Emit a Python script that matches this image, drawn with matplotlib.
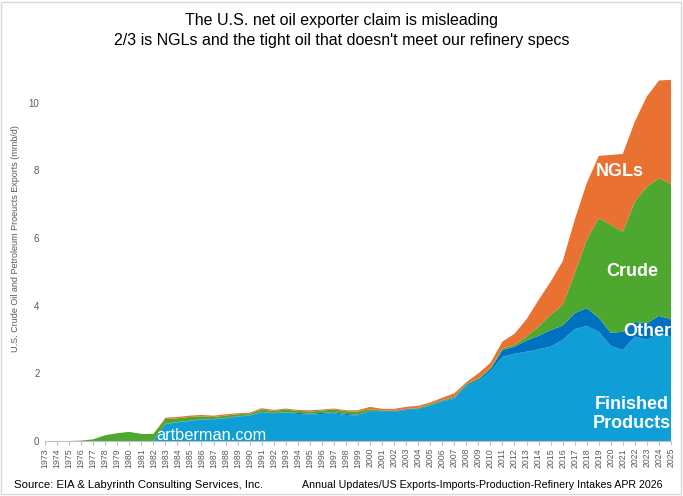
import numpy as np
import matplotlib
matplotlib.use("Agg")
import matplotlib.pyplot as plt
from matplotlib.patches import Rectangle

plt.rcParams['font.family'] = ['Liberation Sans', 'DejaVu Sans']

years = list(range(1973, 2026))

# mmb/d (bottom to top of the stack)
finished = [0, 0, 0, 0, 0, 0, 0, 0, 0, 0,
            0.50, 0.55, 0.59, 0.63, 0.64, 0.67, 0.72, 0.75, 0.85, 0.82,
            0.84, 0.80, 0.78, 0.80, 0.82, 0.77, 0.75, 0.87, 0.87, 0.86,
            0.92, 0.94, 1.04, 1.16, 1.26, 1.63, 1.78, 2.05, 2.49, 2.58,
            2.64, 2.71, 2.79, 2.99, 3.31, 3.40, 3.23, 2.81, 2.69, 3.09,
            2.99, 3.19, 3.09]
other = [0, 0, 0, 0, 0, 0, 0, 0, 0, 0,
         0.01, 0.01, 0.01, 0.01, 0.01, 0.01, 0.01, 0.01, 0.01, 0.01,
         0.01, 0.03, 0.03, 0.03, 0.03, 0.03, 0.03, 0.02, 0.02, 0.02,
         0.02, 0.02, 0.02, 0.02, 0.02, 0.03, 0.04, 0.07, 0.20, 0.21,
         0.33, 0.40, 0.49, 0.42, 0.47, 0.53, 0.41, 0.39, 0.54, 0.43,
         0.49, 0.51, 0.51]
crude = [0, 0, 0, 0.01, 0.05, 0.17, 0.23, 0.27, 0.21, 0.21,
         0.14, 0.11, 0.11, 0.09, 0.06, 0.07, 0.06, 0.05, 0.07, 0.06,
         0.08, 0.06, 0.06, 0.07, 0.08, 0.08, 0.09, 0.05, 0.02, 0.01,
         0.01, 0.02, 0.03, 0.03, 0.03, 0.03, 0.04, 0.04, 0.05, 0.05,
         0.12, 0.27, 0.45, 0.61, 1.18, 2.02, 2.95, 3.19, 2.96, 3.56,
         4.04, 4.07, 4.00]
ngl = [0, 0, 0, 0, 0, 0, 0, 0, 0, 0,
       0.04, 0.04, 0.04, 0.04, 0.04, 0.04, 0.03, 0.03, 0.04, 0.03,
       0.03, 0.03, 0.04, 0.03, 0.03, 0.03, 0.04, 0.07, 0.04, 0.06,
       0.06, 0.06, 0.05, 0.07, 0.10, 0.05, 0.14, 0.15, 0.20, 0.33,
       0.51, 0.79, 0.98, 1.29, 1.58, 1.67, 1.84, 2.07, 2.30, 2.37,
       2.67, 2.89, 3.08]

colors = ['#0F9ED5', '#0070C0', '#4EA72E', '#E97132']

fig = plt.figure(figsize=(6.83, 4.96), dpi=100)
ax = fig.add_axes([45 / 683, 1 - 441 / 496, 626 / 683, 372 / 496])

ax.stackplot(years, finished, other, crude, ngl, colors=colors, lw=0)

ax.set_xlim(1973, 2025)
ax.set_ylim(0, 11)
ax.set_xticks(years)
ax.set_xticklabels([str(y) for y in years], rotation=90, fontsize=6.3, color='#595959')
ax.set_yticks(range(0, 11, 2))
ax.tick_params(axis='y', length=0, labelsize=7, labelcolor='#595959', pad=4)
ax.tick_params(axis='x', length=3, color='#bfbfbf', pad=2)
for s in ['left', 'top', 'right']:
    ax.spines[s].set_visible(False)
ax.spines['bottom'].set_color('#bfbfbf')
ax.set_ylabel('U.S. Crude Oil and Petroleum Proeucts Exports (mmb/d)',
              fontsize=6.5, color='#595959')
ax.yaxis.set_label_coords(-0.04, 0.543)

# labels inside the areas
lab = dict(color='white', fontweight='bold', fontsize=13, ha='center', va='center')
ax.text(2020.75, 7.96, 'NGLs', **lab)
ax.text(2021.8, 5.0, 'Crude', **lab)
ax.text(2023.0, 3.25, 'Other', **lab)
ax.text(2021.75, 0.8, 'Finished\nProducts', linespacing=1.2, **lab)
ax.text(1986.8, 0.03, 'artberman.com', color='white', fontsize=11.8,
        ha='center', va='baseline')

fig.text(0.5, 1 - 20 / 496, 'The U.S. net oil exporter claim is misleading',
         ha='center', va='center', fontsize=11.5)
fig.text(0.5, 1 - 40 / 496, "2/3 is NGLs and the tight oil that doesn't meet our refinery specs",
         ha='center', va='center', fontsize=11.5)

fig.text(14 / 683, 1 - 485 / 496, 'Source: EIA & Labyrinth Consulting Services, Inc.',
         ha='left', va='center', fontsize=8.2)
fig.text(663 / 683, 1 - 485 / 496,
         'Annual Updates/US Exports-Imports-Production-Refinery Intakes APR 2026',
         ha='right', va='center', fontsize=7.7)

fig.patches.append(Rectangle((0.002, 0.004), 0.995, 0.992, transform=fig.transFigure,
                             fill=False, edgecolor='#d9d9d9', lw=1))

fig.savefig('out.png', dpi=100)
